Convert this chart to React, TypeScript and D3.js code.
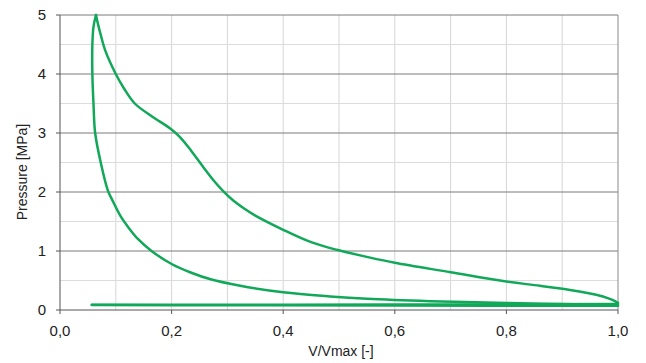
import React from "react";
import * as d3 from "d3";

const xTicks = [0, 0.2, 0.4, 0.6, 0.8, 1.0];
const xTickLabels = ["0,0", "0,2", "0,4", "0,6", "0,8", "1,0"];
const yTicks = [0, 1, 2, 3, 4, 5];
const yTickLabels = ["0", "1", "2", "3", "4", "5"];

const intakeV = [0.057, 0.3, 0.6, 1.0];
const intakeP = [0.085, 0.08, 0.075, 0.07];

const exhaustV = [1.0, 0.7, 0.4, 0.057];
const exhaustP = [0.1, 0.095, 0.09, 0.09];

const compressionV = [1.0, 0.9, 0.8, 0.663, 0.55, 0.484, 0.4, 0.323, 0.27, 0.233, 0.2, 0.164, 0.14, 0.125, 0.108, 0.095, 0.086, 0.073, 0.063, 0.06, 0.058, 0.058, 0.06, 0.0645];
const compressionP = [0.08, 0.1, 0.12, 0.15, 0.19, 0.23, 0.3, 0.41, 0.52, 0.64, 0.78, 1.0, 1.2, 1.37, 1.6, 1.84, 2.02, 2.5, 3.0, 3.5, 4.0, 4.5, 4.8, 5.0];

const expansionV = [0.0645, 0.068, 0.072, 0.081, 0.1, 0.115, 0.134, 0.165, 0.197, 0.215, 0.235, 0.257, 0.275, 0.292, 0.31, 0.33, 0.35, 0.4, 0.45, 0.496, 0.55, 0.6, 0.7, 0.794, 0.86, 0.914, 0.95, 0.973, 0.99, 1.0];
const expansionP = [5.0, 4.85, 4.7, 4.4, 4.0, 3.75, 3.5, 3.28, 3.08, 2.93, 2.7, 2.42, 2.2, 2.02, 1.86, 1.72, 1.6, 1.36, 1.15, 1.02, 0.9, 0.8, 0.64, 0.49, 0.41, 0.34, 0.28, 0.23, 0.17, 0.12];

const W = 646;
const H = 363;
const left = 60;
const right = 618;
const top = 15;
const bottom = 310;

export default function App() {
  const x = d3.scaleLinear().domain([0, 1]).range([left, right]);
  const y = d3.scaleLinear().domain([0, 5]).range([bottom, top]);

  const line = d3
    .line<[number, number]>()
    .x((d) => x(d[0]))
    .y((d) => y(d[1]))
    .curve(d3.curveCatmullRom.alpha(0.5));

  const seg = (vs: number[], ps: number[]) =>
    line(vs.map((v, i) => [v, ps[i]] as [number, number])) || "";

  const vGrid = d3.range(1, 10).map((i) => i / 10);
  const hMinor = d3.range(0, 5).map((i) => i + 0.5);
  const font = "Liberation Sans, Arial, sans-serif";
  const green = "#12a85a";

  return (
    <svg
      width={W}
      height={H}
      style={{ position: "absolute", left: 0, top: 0, background: "#fff" }}
      fontFamily={font}
    >
      {vGrid.map((v) => (
        <line key={"vg" + v} x1={x(v)} x2={x(v)} y1={top} y2={bottom} stroke="#d6d6d6" strokeWidth={1} />
      ))}
      {hMinor.map((p) => (
        <line key={"hm" + p} x1={left} x2={right} y1={y(p)} y2={y(p)} stroke="#dcdcdc" strokeWidth={1} />
      ))}
      {yTicks.slice(1).map((p) => (
        <line key={"hg" + p} x1={left} x2={right} y1={y(p)} y2={y(p)} stroke="#7a7a7a" strokeWidth={1} />
      ))}
      <line x1={right} x2={right} y1={top} y2={bottom} stroke="#8a8a8a" strokeWidth={1} />
      <line x1={left} x2={left} y1={top} y2={bottom} stroke="#555" strokeWidth={1} />
      <line x1={left} x2={right} y1={bottom} y2={bottom} stroke="#555" strokeWidth={1} />
      {yTicks.map((p) => (
        <line key={"yt" + p} x1={left - 4} x2={left} y1={y(p)} y2={y(p)} stroke="#555" strokeWidth={1} />
      ))}
      {xTicks.map((v) => (
        <line key={"xt" + v} x1={x(v)} x2={x(v)} y1={bottom} y2={bottom + 4} stroke="#555" strokeWidth={1} />
      ))}
      {yTicks.map((p, i) => (
        <text key={"yl" + p} x={46} y={y(p)} dy="0.35em" textAnchor="end" fontSize={15} fill="#222">
          {yTickLabels[i]}
        </text>
      ))}
      {xTicks.map((v, i) => (
        <text key={"xl" + v} x={x(v)} y={336} textAnchor="middle" fontSize={15} fill="#222">
          {xTickLabels[i]}
        </text>
      ))}
      <text x={341} y={356} textAnchor="middle" fontSize={14} fill="#222">
        V/Vmax [-]
      </text>
      <text
        transform={`translate(27, 172) rotate(-90)`}
        textAnchor="middle"
        fontSize={14}
        fill="#222"
      >
        Pressure [MPa]
      </text>
      <g fill="none" stroke={green} strokeWidth={2.5} strokeLinejoin="round" strokeLinecap="round">
        <path d={seg(intakeV, intakeP)} />
        <path d={seg(exhaustV, exhaustP)} />
        <path d={seg(compressionV, compressionP)} />
        <path d={seg(expansionV, expansionP)} />
      </g>
    </svg>
  );
}
